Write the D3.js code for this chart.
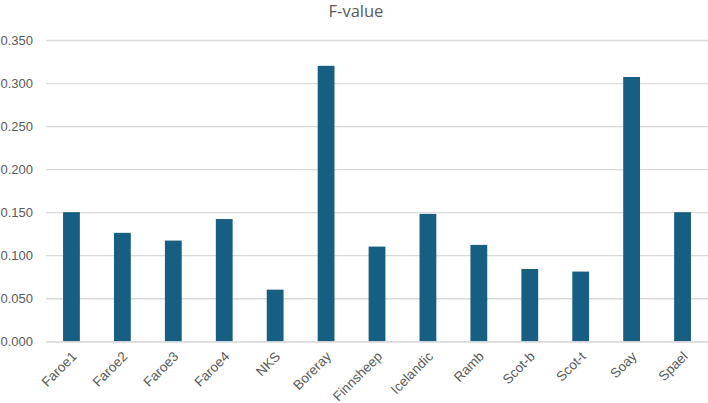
<!DOCTYPE html>
<html><head><meta charset="utf-8">
<script src="https://cdn.jsdelivr.net/npm/d3@7"></script>
<style>body{margin:0;background:#fff;}svg{display:block;font-family:"Open Sans",Roboto,sans-serif;}</style>
</head><body>
<svg id="c" width="708" height="403"></svg>
<script>
const categories = ["Faroe1","Faroe2","Faroe3","Faroe4","NKS","Boreray","Finnsheep","Icelandic","Ramb","Scot-b","Scot-t","Soay","Spael"];
const values = [0.150,0.126,0.117,0.142,0.060,0.320,0.110,0.148,0.112,0.084,0.081,0.307,0.150];
const yTicks = [0,0.05,0.1,0.15,0.2,0.25,0.3,0.35];
const title = "F-value";

(function(){
const svg = d3.select("#c");
const mLeft = 46, mRight = 708, mTop = 40, mBottom = 341.3;
const x = d3.scaleBand().domain(categories).range([mLeft, mRight]).paddingInner(0.67).paddingOuter(0.335);
const y = d3.scaleLinear().domain([0, 0.35]).range([mBottom, mTop]);

svg.append("text").attr("x", 356).attr("y", 17).attr("text-anchor","middle")
  .attr("fill","#595959").style("font-size","16.5px").text(title);

const yAxis = d3.axisLeft(y).tickValues(yTicks).tickFormat(d3.format(".3f")).tickSize(-(mRight-mLeft)).tickPadding(13);
const gy = svg.append("g").attr("transform",`translate(${mLeft},0)`).call(yAxis);
gy.select(".domain").remove();
gy.selectAll(".tick line").attr("stroke","#d9d9d9").attr("stroke-width",1.3);
gy.selectAll(".tick text").attr("fill","#595959").style("font-size","13px");

svg.append("g").selectAll("rect").data(categories).join("rect")
  .attr("x", d => x(d)).attr("width", x.bandwidth())
  .attr("y", (d,i) => y(values[i])).attr("height", (d,i) => y(0) - y(values[i]))
  .attr("fill","#175f82");

const xAxis = d3.axisBottom(x).tickSize(0).tickPadding(0);
const gx = svg.append("g").attr("transform",`translate(0,${mBottom})`).call(xAxis);
gx.select(".domain").attr("stroke","#d9d9d9").attr("stroke-width",1.3);
gx.selectAll(".tick text").attr("fill","#595959").style("font-size","13.5px")
  .attr("text-anchor","end").attr("dy","0").attr("dx","0")
  .attr("transform","translate(6,16) rotate(-45)");
})();
</script>
</body></html>
